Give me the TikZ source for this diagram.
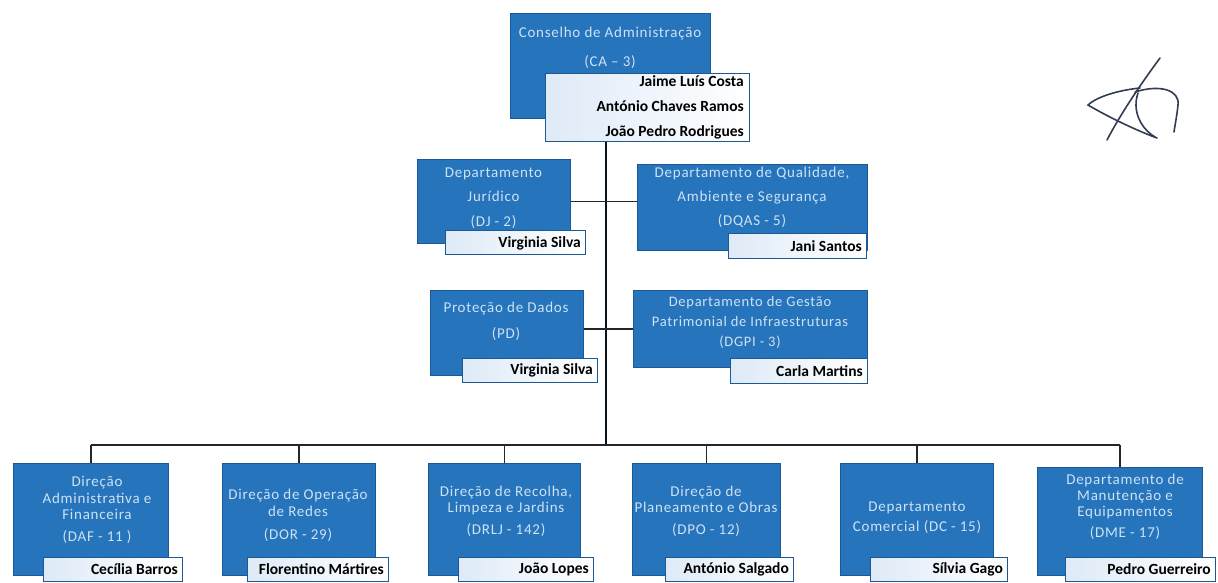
\documentclass[tikz,border=0pt]{standalone}
\usepackage{fontspec}
\newfontfamily\boxfont{Carlito}[LetterSpace=5]
\newfontfamily\namefam{Carlito}
\definecolor{cblue}{RGB}{38,116,188}
\definecolor{cbluedark}{RGB}{28,88,148}
\definecolor{ctext}{RGB}{205,226,244}
\definecolor{cnameleft}{RGB}{222,234,247}
\definecolor{csig}{RGB}{50,60,82}
\tikzset{
  bbox/.style={fill=cblue, draw=cbluedark, line width=0.6pt, anchor=north west, inner sep=0pt},
  nbox/.style={draw=cbluedark, line width=0.9pt, left color=cnameleft, right color=white, anchor=north west, inner sep=0pt},
  btext/.style={text=ctext, align=center, inner sep=0pt},
  ntext/.style={font=\namefam\bfseries\fontsize{15.5}{25}\selectfont, text=black, anchor=east, align=right, inner sep=0pt},
  conn/.style={draw=black!85, line width=1.5pt},
  trunk/.style={draw=black!80!cbluedark, line width=2pt},
  sig/.style={draw=csig, line width=1.6pt, line cap=round}
}
\begin{document}
\begin{tikzpicture}[x=1pt,y=-1pt]
\useasboundingbox (0,0) rectangle (1218,582);
% ---------- blue boxes ----------
\node[bbox, minimum width=200, minimum height=105] (ca) at (510,13) {};
\node[bbox, minimum width=153, minimum height=84] (dj) at (417,159) {};
\node[bbox, minimum width=230, minimum height=86] (dqas) at (637,164) {};
\node[bbox, minimum width=153, minimum height=85] (pd) at (430,290) {};
\node[bbox, minimum width=234, minimum height=77] (dgpi) at (633,290) {};
\node[bbox, minimum width=155, minimum height=112] (daf) at (13,463) {};
\node[bbox, minimum width=153, minimum height=112] (dor) at (222,463) {};
\node[bbox, minimum width=152, minimum height=112] (dru) at (428,463) {};
\node[bbox, minimum width=148, minimum height=112] (dpo) at (632,463) {};
\node[bbox, minimum width=153, minimum height=112] (dc) at (840,463) {};
\node[bbox, minimum width=165, minimum height=108] (dme) at (1037,467) {};
% ---------- name boxes ----------
\node[nbox, minimum width=204, minimum height=68] (can) at (545,73) {};
\node[nbox, minimum width=140, minimum height=24] (djn) at (445,230) {};
\node[nbox, minimum width=138, minimum height=25] (dqasn) at (728,233) {};
\node[nbox, minimum width=135, minimum height=24] (pdn) at (462,358) {};
\node[nbox, minimum width=137, minimum height=25] (dgpin) at (730,358) {};
\node[nbox, minimum width=139, minimum height=24] (dafn) at (43,557) {};
\node[nbox, minimum width=141, minimum height=24] (dorn) at (247,557) {};
\node[nbox, minimum width=135, minimum height=24] (drun) at (458,557) {};
\node[nbox, minimum width=128, minimum height=24] (dpon) at (665,557) {};
\node[nbox, minimum width=137, minimum height=24] (dcn) at (870,557) {};
\node[nbox, minimum width=150, minimum height=24] (dmen) at (1065,557) {};
% ---------- box texts ----------
\node[btext, font=\boxfont\fontsize{15}{29}\selectfont] (cat) at (610,48) {Conselho de Administração\\(CA – 3)};
\node[btext, font=\boxfont\fontsize{15}{24.5}\selectfont] (djt) at (493.5,198) {Departamento\\Jurídico\\(DJ - 2)};
\node[btext, font=\boxfont\fontsize{15}{24}\selectfont] (dqast) at (752,197) {Departamento de Qualidade,\\Ambiente e Segurança\\(DQAS - 5)};
\node[btext, font=\boxfont\fontsize{15}{26}\selectfont] (pdt) at (506,321) {Proteção de Dados\\(PD)};
\node[btext, font=\boxfont\fontsize{14.5}{20}\selectfont] (dgpit) at (750,322) {Departamento de Gestão\\Patrimonial de Infraestruturas\\(DGPI - 3)};
\node[btext, font=\boxfont\fontsize{15}{16.5}\selectfont] (daft) at (97,510) {Direção\\Administrativa e\\Financeira\\[5.5pt](DAF - 11 )};
\node[btext, font=\boxfont\fontsize{15}{17}\selectfont] (dort) at (298,515) {Direção de Operação\\de Redes\\[6pt](DOR - 29)};
\node[btext, font=\boxfont\fontsize{15}{16}\selectfont] (drut) at (506,511) {Direção de Recolha,\\Limpeza e Jardins\\[6pt](DRLJ - 142)};
\node[btext, font=\boxfont\fontsize{15}{16}\selectfont] (dpot) at (706,511) {Direção de\\Planeamento e Obras\\[6pt](DPO - 12)};
\node[btext, font=\boxfont\fontsize{15}{20}\selectfont] (dct) at (917,518) {Departamento\\Comercial (DC - 15)};
\node[btext, font=\boxfont\fontsize{15}{16}\selectfont] (dmet) at (1125,507) {Departamento de\\Manutenção e\\Equipamentos\\[5pt](DME - 17)};
% ---------- names ----------
\node[ntext] (cannames) at (744,107) {Jaime Luís Costa\\António Chaves Ramos\\João Pedro Rodrigues};
\node[ntext] (djname) at (581,243) {Virginia Silva};
\node[ntext] (dqasname) at (862,246) {Jani Santos};
\node[ntext] (pdname) at (593,370) {Virginia Silva};
\node[ntext] (dgpiname) at (863,371) {Carla Martins};
\node[ntext] (dafname) at (178,569) {Cecília Barros};
\node[ntext] (dorname) at (384,569) {Florentino Mártires};
\node[ntext] (druname) at (589,569) {João Lopes};
\node[ntext] (dponame) at (789,569) {António Salgado};
\node[ntext] (dcname) at (1003,569) {Sílvia Gago};
\node[ntext] (dmename) at (1211,569) {Pedro Guerreiro};
% ---------- connectors ----------
\coordinate (busc) at (606,445);
\draw[trunk] (busc |- can.south) -- (busc);
\draw[conn] (dj.east) -- (dj.east -| dqas.west);
\draw[conn] (dgpi.west -| pd.east) -- (dgpi.west);
\draw[conn] (daf.north |- busc) -- (dme.north |- busc);
\foreach \n in {daf,dor,dru,dpo,dc,dme}
  \draw[conn] (\n.north |- busc) -- (\n.north);
% ---------- signature ----------
\draw[sig] (1160,58) .. controls (1140,85) and (1120,115) .. (1107,140);
\draw[sig] (1140,88) .. controls (1112,91) and (1094,99) .. (1088,105) .. controls (1110,118) and (1138,131) .. (1157,138);
\draw[sig] (1135,92) .. controls (1160,84) and (1180,90) .. (1178,105) .. controls (1177,115) and (1175,125) .. (1174,132);
\draw[sig] (1138,93) .. controls (1132,110) and (1140,128) .. (1155,137);
\end{tikzpicture}
\end{document}
